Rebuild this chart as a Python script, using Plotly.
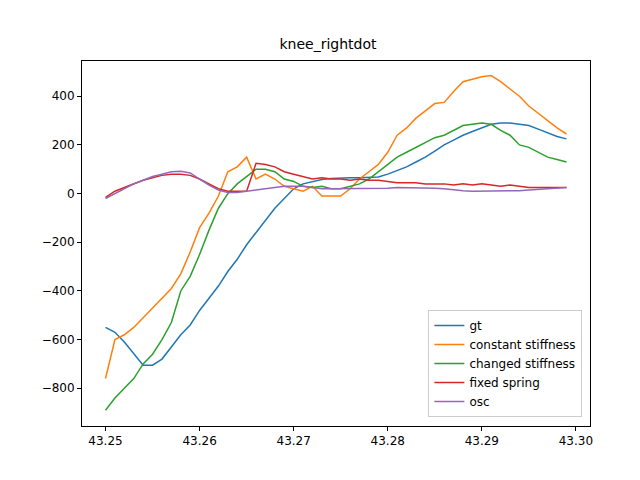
import plotly.graph_objects as go

x = [round(43.250 + 0.001 * i, 3) for i in range(50)]
gt = [-550,-570,-610,-660,-705,-705,-680,-630,-580,-540,-480,-430,-380,-320,-270,-210,-160,-110,-60,-20,
      20,40,50,58,62,65,65,65,65,68,80,95,110,130,150,175,200,220,240,255,270,285,290,290,285,280,265,250,235,225]
const = [-760,-600,-580,-550,-510,-470,-430,-390,-330,-240,-140,-80,-10,90,110,150,60,80,60,30,
         20,10,30,-10,-10,-10,20,60,90,120,170,240,270,310,340,370,375,420,460,470,480,485,460,430,400,360,330,300,270,245]
changed = [-890,-840,-800,-760,-700,-660,-600,-530,-400,-340,-250,-150,-60,0,40,70,100,100,90,60,
           50,30,25,30,20,20,30,40,60,90,120,150,170,190,210,230,240,260,280,285,290,285,260,240,200,190,170,150,140,130]
fixed = [-15,10,25,40,55,65,75,80,80,75,60,40,20,10,10,10,125,120,110,90,
         80,70,60,65,60,60,55,60,55,55,50,45,45,45,40,40,40,35,40,35,40,35,30,35,30,25,25,25,25,25]
osc = [-20,0,20,40,55,70,80,90,92,85,60,35,15,5,5,10,15,20,25,30,
       30,30,25,20,20,20,20,20,20,20,22,25,25,25,25,22,20,15,12,10,10,10,10,10,12,15,18,20,22,25]

series = [("gt", gt, "#1f77b4"), ("constant stiffness", const, "#ff7f0e"),
          ("changed stiffness", changed, "#2ca02c"), ("fixed spring", fixed, "#d62728"),
          ("osc", osc, "#9467bd")]

fig = go.Figure()
for name, y, c in series:
    fig.add_trace(go.Scatter(x=x, y=y, name=name, mode="lines", line=dict(color=c, width=1.5)))

ax = dict(showline=True, linecolor="black", linewidth=1, mirror=True, ticks="outside",
          ticklen=4, tickcolor="black", showgrid=False, zeroline=False)
fig.update_layout(
    width=640, height=480, plot_bgcolor="white", paper_bgcolor="white",
    font=dict(family="DejaVu Sans", size=12, color="black"),
    title=dict(text="knee_rightdot", x=0.5, xanchor="center", y=0.935, font=dict(size=14)),
    margin=dict(l=74, r=58, t=53, b=62),
    xaxis=dict(ax, range=[43.2475, 43.3015], tickvals=[43.25, 43.26, 43.27, 43.28, 43.29, 43.30],
               ticktext=["43.25", "43.26", "43.27", "43.28", "43.29", "43.30"]),
    yaxis=dict(ax, range=[-955, 545], tickvals=[-800, -600, -400, -200, 0, 200, 400]),
    legend=dict(x=0.985, y=0.025, xanchor="right", yanchor="bottom", bordercolor="#cccccc",
                borderwidth=1, bgcolor="rgba(255,255,255,0.8)", font=dict(size=12)),
    showlegend=True,
)
fig.write_html("out.html")
